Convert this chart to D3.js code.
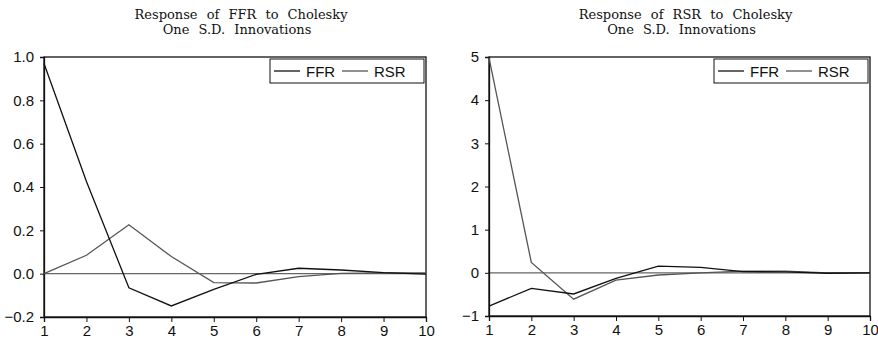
<!DOCTYPE html>
<html>
<head>
<meta charset="utf-8">
<script src="https://cdn.jsdelivr.net/npm/d3@7/dist/d3.min.js"></script>
<style>
  body { margin: 0; background: #fff; }
  svg { display: block; }
  .tick text { font-family: "Liberation Sans", Arial, sans-serif; font-size: 15px; fill: #111; }
  .title { font-family: "DejaVu Serif", "Liberation Serif", serif; font-size: 13px; fill: #111; word-spacing: 5px; }
  .legend text { font-family: "Liberation Sans", Arial, sans-serif; font-size: 15px; fill: #111; }
</style>
</head>
<body>
<svg id="chart" width="878" height="339"></svg>
<script>
// periods 1..10
const periods = [1, 2, 3, 4, 5, 6, 7, 8, 9, 10];

// Response of FFR
const ffrOnFFR = [0.97, 0.425, -0.065, -0.149, -0.073, -0.003, 0.025, 0.017, 0.005, -0.002];
const ffrOnRSR = [0.0, 0.085, 0.226, 0.079, -0.041, -0.043, -0.014, 0.001, 0.004, 0.003];
const ffrTicks = [-0.2, 0.0, 0.2, 0.4, 0.6, 0.8, 1.0];

// Response of RSR
const rsrOnFFR = [-0.77, -0.36, -0.49, -0.13, 0.155, 0.125, 0.03, 0.02, -0.01, 0.0];
const rsrOnRSR = [4.98, 0.24, -0.61, -0.17, -0.05, 0.0, 0.04, 0.04, 0.0, 0.0];
const rsrTicks = [-1, 0, 1, 2, 3, 4, 5];

const seriesNames = ['FFR', 'RSR'];
const colors = ['#111', '#555'];

const svg = d3.select('#chart');

function drawPanel(opts) {
  const g = svg.append('g');
  const x = d3.scaleLinear().domain([1, 10]).range([opts.left, opts.right]);
  const y = d3.scaleLinear().domain(opts.domain).range([opts.bottom, opts.top]);

  // titles
  g.append('text').attr('class', 'title')
    .attr('x', (opts.left + opts.right) / 2 + 6).attr('y', 19)
    .attr('text-anchor', 'middle').text(opts.title[0]);
  g.append('text').attr('class', 'title')
    .attr('x', (opts.left + opts.right) / 2 + 2).attr('y', 34)
    .attr('text-anchor', 'middle').text(opts.title[1]);

  // frame
  g.append('rect')
    .attr('x', opts.left).attr('y', opts.top)
    .attr('width', opts.right - opts.left).attr('height', opts.bottom - opts.top)
    .attr('fill', 'none').attr('stroke', '#111').attr('stroke-width', 1.3);

  // zero line
  g.append('line')
    .attr('x1', opts.left).attr('x2', opts.right)
    .attr('y1', y(0)).attr('y2', y(0))
    .attr('stroke', '#666').attr('stroke-width', 1.3);

  const xAxis = g.append('g')
    .attr('transform', 'translate(0,' + opts.bottom + ')')
    .call(d3.axisBottom(x).tickValues(periods).tickSize(5).tickPadding(3).tickFormat(d3.format('d')));
  const yAxis = g.append('g')
    .attr('transform', 'translate(' + opts.left + ',0)')
    .call(d3.axisLeft(y).tickValues(opts.ticks).tickSize(4).tickPadding(6).tickFormat(opts.fmt));
  [xAxis, yAxis].forEach(a => {
    a.select('.domain').attr('stroke', '#111').attr('stroke-width', 1.3);
    a.selectAll('.tick line').attr('stroke', '#111');
  });

  const line = d3.line().x((d, i) => x(periods[i])).y(d => y(d));
  // RSR first so FFR sits on top
  [1, 0].forEach(k => {
    g.append('path')
      .datum(opts.series[k])
      .attr('d', line)
      .attr('fill', 'none')
      .attr('stroke', colors[k])
      .attr('stroke-width', 1.3);
  });

  // legend
  const lg = g.append('g').attr('class', 'legend')
    .attr('transform', 'translate(' + (opts.right - 156) + ',' + (opts.top + 2) + ')');
  lg.append('rect').attr('width', 154).attr('height', 24)
    .attr('fill', '#fff').attr('stroke', '#111').attr('stroke-width', 1);
  seriesNames.forEach((name, i) => {
    const ox = 4 + i * 68;
    lg.append('line').attr('x1', ox).attr('x2', ox + 26).attr('y1', 12).attr('y2', 12)
      .attr('stroke', colors[i]).attr('stroke-width', 1.3);
    lg.append('text').attr('x', ox + 32).attr('y', 17.5).text(name);
  });
}

drawPanel({
  left: 44, right: 426, top: 57, bottom: 317,
  domain: [-0.2, 1.0], ticks: ffrTicks, fmt: d3.format('.1f'),
  series: [ffrOnFFR, ffrOnRSR],
  title: ['Response of FFR to Cholesky', 'One S.D. Innovations']
});

drawPanel({
  left: 489, right: 870, top: 57, bottom: 316,
  domain: [-1, 5], ticks: rsrTicks, fmt: d3.format('d'),
  series: [rsrOnFFR, rsrOnRSR],
  title: ['Response of RSR to Cholesky', 'One S.D. Innovations']
});
</script>
</body>
</html>
